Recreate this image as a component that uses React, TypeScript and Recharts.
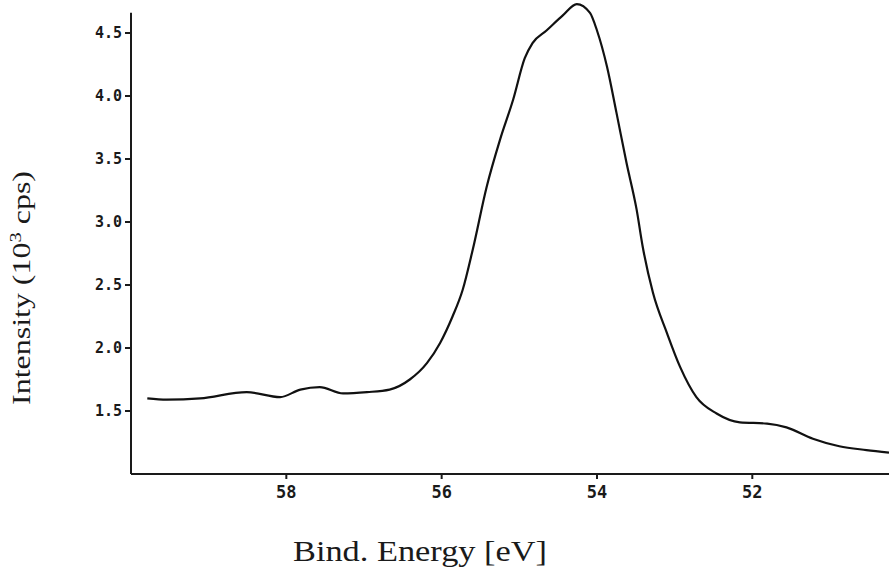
import { LineChart, Line, XAxis, YAxis, ReferenceLine, Label } from 'recharts'

// binding energy (eV), read left to right off the trace
const energy = [
  59.79, 59.54, 59.11, 58.51, 58.08, 57.82, 57.57, 57.27, 56.96, 56.67,
  56.41, 56.19, 56.02, 55.86, 55.73, 55.6, 55.42, 55.25, 55.08, 54.93,
  54.83, 54.65, 54.44, 54.26, 54.09, 54.0, 53.87, 53.75, 53.62, 53.49,
  53.41, 53.28, 53.1, 52.93, 52.72, 52.46, 52.16, 51.81, 51.56, 51.22,
  50.88, 50.53, 50.24,
]

// intensity (10^3 cps)
const intensity = [
  1.6, 1.59, 1.6, 1.65, 1.61, 1.67, 1.69, 1.64, 1.65, 1.67,
  1.75, 1.88, 2.04, 2.25, 2.46, 2.78, 3.28, 3.65, 3.97, 4.3,
  4.42, 4.52, 4.64, 4.73, 4.66, 4.52, 4.23, 3.87, 3.47, 3.1,
  2.8, 2.44, 2.12, 1.85, 1.61, 1.48, 1.41, 1.4, 1.37, 1.28,
  1.22, 1.19, 1.17,
]

const xTicks = [58, 56, 54, 52]
const yTicks = [1.5, 2.0, 2.5, 3.0, 3.5, 4.0, 4.5]

const data = energy.map((e, i) => ({ energy: e, intensity: intensity[i] }))

const tickFont = {
  fontSize: 15,
  fontFamily: 'DejaVu Sans Mono',
  fontWeight: 'bold',
  fill: '#1a1a1a',
}

export default function App() {
  return (
    <div style={{ position: 'absolute', left: 0, top: 0, width: 890, height: 571, background: '#fff' }}>
      <LineChart width={890} height={571} data={data} margin={{ top: 0, right: 1, left: 0, bottom: 0 }}>
        <XAxis
          dataKey="energy"
          type="number"
          domain={[50.24, 60]}
          reversed
          allowDataOverflow
          ticks={xTicks}
          tickFormatter={(v) => String(v)}
          tick={{ ...tickFont, fontSize: 17 }}
          tickSize={5}
          tickMargin={7}
          height={97}
          axisLine={{ stroke: '#1a1a1a', strokeWidth: 2 }}
          tickLine={{ stroke: '#1a1a1a', strokeWidth: 2 }}
        >
          <Label
            content={() => (
              <text
                x={420}
                y={561}
                textAnchor="middle"
                fontFamily="Liberation Serif"
                fontSize={30}
                textLength={254}
                lengthAdjust="spacingAndGlyphs"
                fill="#1a1a1a"
              >
                Bind. Energy [eV]
              </text>
            )}
          />
        </XAxis>
        <YAxis
          type="number"
          domain={[1, 4.762]}
          allowDataOverflow
          ticks={yTicks}
          tickFormatter={(v) => v.toFixed(1)}
          tick={tickFont}
          tickSize={6}
          tickMargin={3}
          width={131}
          axisLine={false}
          tickLine={{ stroke: '#1a1a1a', strokeWidth: 2 }}
        >
          <Label
            content={() => (
              <text
                x={30}
                y={288}
                transform="rotate(-90, 30, 288)"
                textAnchor="middle"
                fontFamily="Liberation Serif"
                fontSize={25}
                textLength={234}
                lengthAdjust="spacingAndGlyphs"
                fill="#1a1a1a"
              >
                Intensity (10<tspan dy={-9} fontSize={16}>3</tspan>
                <tspan dy={9}> cps)</tspan>
              </text>
            )}
          />
        </YAxis>
        {/* vertical axis stops a little below the peak */}
        <ReferenceLine
          segment={[{ x: 60, y: 1 }, { x: 60, y: 4.66 }]}
          stroke="#1a1a1a"
          strokeWidth={2}
          ifOverflow="visible"
        />
        <Line
          type="monotone"
          dataKey="intensity"
          stroke="#111"
          strokeWidth={2.2}
          dot={false}
          isAnimationActive={false}
        />
      </LineChart>
    </div>
  )
}
